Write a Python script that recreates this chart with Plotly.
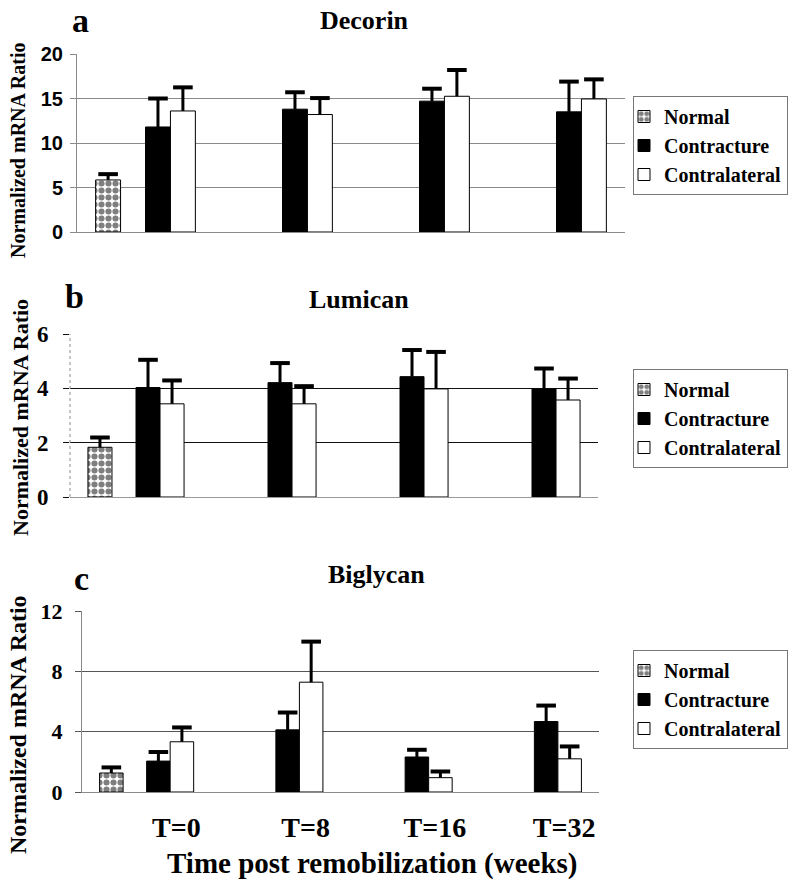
import plotly.graph_objects as go

# ---------------- data ----------------
timepoints = ["T=0", "T=8", "T=16", "T=32"]
series_names = ["Normal", "Contracture", "Contralateral"]

panel_letters = ["a", "b", "c"]
panel_titles = ["Decorin", "Lumican", "Biglycan"]
y_ranges = [[0, 20], [0, 6], [0, 12]]
y_dticks = [5, 2, 4]

decorin_normal = [5.85]
decorin_normal_err = [0.65]
decorin_contracture = [11.8, 13.8, 14.7, 13.5]
decorin_contracture_err = [3.2, 1.9, 1.4, 3.4]
decorin_contralateral = [13.6, 13.2, 15.25, 14.95]
decorin_contralateral_err = [2.65, 1.85, 2.95, 2.2]

lumican_normal = [1.83]
lumican_normal_err = [0.36]
lumican_contracture = [4.03, 4.21, 4.43, 3.98]
lumican_contracture_err = [1.02, 0.72, 0.98, 0.75]
lumican_contralateral = [3.43, 3.43, 3.98, 3.57]
lumican_contralateral_err = [0.86, 0.65, 1.36, 0.79]

biglycan_normal = [1.26]
biglycan_normal_err = [0.37]
biglycan_contracture = [2.05, 4.12, 2.32, 4.67]
biglycan_contracture_err = [0.6, 1.15, 0.48, 1.06]
biglycan_contralateral = [3.33, 7.28, 0.95, 2.2]
biglycan_contralateral_err = [0.95, 2.69, 0.41, 0.82]

panels = [
    (decorin_normal, decorin_normal_err, decorin_contracture, decorin_contracture_err,
     decorin_contralateral, decorin_contralateral_err),
    (lumican_normal, lumican_normal_err, lumican_contracture, lumican_contracture_err,
     lumican_contralateral, lumican_contralateral_err),
    (biglycan_normal, biglycan_normal_err, biglycan_contracture, biglycan_contracture_err,
     biglycan_contralateral, biglycan_contralateral_err),
]

# ---------------- style / layout ----------------
W, H = 800, 889
SERIF = "Liberation Serif"
SANS = "Liberation Sans"
# plot areas in pixels: (x0, x1, ytop, ybottom)
areas = [(77, 625, 54, 232), (70, 598, 334, 497), (82, 599, 611, 792)]
grid_colors = ["#8a8a8a", "#111111", "#555555"]
axis_colors = ["#8a8a8a", "#9a9a9a", "#8a8a8a"]
legend_pos = [(788, 96), (788, 369), (788, 650)]   # right edge, top
letter_pos = [(80, 20.5), (74, 296), (81, 578)]
title_pos = [(364, 21), (359, 299), (376, 574)]
ytitle_pos = [(18, 150, 20), (20, 418, 22), (18, 725, 24)]
ytick_fonts = [dict(family=SANS, size=20, color="black", weight="bold"),
               dict(family=SERIF, size=23, color="black", weight="bold"),
               dict(family=SERIF, size=22, color="black", weight="bold")]
ytick_standoff = [3, 10, 8]

bw = 0.182  # bar width in category units
offsets = [-2 * bw, 0.0, bw]

fig = go.Figure()
annotations = []
shapes = []

for p, data in enumerate(panels):
    sfx = "" if p == 0 else str(p + 1)
    xa, ya = "x" + sfx, "y" + sfx
    leg = "legend" + sfx
    normal, normal_err, contr, contr_err, contra, contra_err = data
    idx_all = list(range(len(timepoints)))
    idx_norm = idx_all[:len(normal)]

    series = [
        (series_names[0], idx_norm, normal, normal_err,
         dict(color="white", line=dict(color="black", width=1),
              pattern=dict(shape=".", fgcolor="black", bgcolor="white", size=7, solidity=0.6))),
        (series_names[1], idx_all, contr, contr_err,
         dict(color="black", line=dict(color="black", width=1))),
        (series_names[2], idx_all, contra, contra_err,
         dict(color="white", line=dict(color="black", width=1))),
    ]
    for s, (name, xs, vals, errs, marker) in enumerate(series):
        fig.add_trace(go.Bar(
            x=xs, y=vals, name=name, marker=marker,
            width=bw, offset=offsets[s],
            xaxis=xa, yaxis=ya, legend=leg,
        ))
        # one-sided error bars: cap at value+err, stem down to the bar top
        fig.add_trace(go.Scatter(
            x=[i + offsets[s] + bw / 2 for i in xs],
            y=[v + e for v, e in zip(vals, errs)],
            mode="markers",
            marker=dict(symbol="line-ew", size=14, line=dict(color="black", width=4)),
            error_y=dict(type="data", symmetric=False, array=[0] * len(errs),
                         arrayminus=errs, width=0, thickness=3, color="black"),
            xaxis=xa, yaxis=ya, showlegend=False, hoverinfo="skip",
        ))

    x0, x1, yt, yb = areas[p]
    xdom = [x0 / W, x1 / W]
    ydom = [1 - yb / H, 1 - yt / H]
    last = p == 2
    fig.update_layout({
        "xaxis" + sfx: dict(
            domain=xdom, range=[-0.5, len(timepoints) - 0.5], anchor=ya,
            showgrid=False, zeroline=False, showline=True, linecolor=axis_colors[p], linewidth=1,
            tickmode="array",
            tickvals=[i + 0.23 for i in idx_all] if last else [],
            ticktext=timepoints if last else [],
            ticks="", ticklabelstandoff=10,
            tickfont=dict(family=SERIF, size=28, color="black", weight="bold"),
            fixedrange=True, automargin=False,
        ),
        "yaxis" + sfx: dict(
            domain=ydom, range=y_ranges[p], anchor=xa,
            dtick=y_dticks[p], tick0=0,
            showgrid=True, gridcolor=grid_colors[p], gridwidth=1,
            zeroline=False, showline=(p != 1), linecolor=axis_colors[p], linewidth=1,
            ticks="outside", ticklen=6, tickcolor=grid_colors[p], tickwidth=1,
            tickfont=ytick_fonts[p], ticklabelstandoff=ytick_standoff[p],
            fixedrange=True, automargin=False,
        ),
        leg: dict(
            x=legend_pos[p][0] / W, y=1 - legend_pos[p][1] / H, xanchor="right", yanchor="top",
            xref="paper", yref="paper",
            bordercolor="#777777", borderwidth=1, bgcolor="white",
            font=dict(family=SERIF, size=20, color="black", weight="bold"),
            traceorder="normal", itemwidth=30, indentation=-10,
        ),
    })
    if p == 1:
        shapes.append(dict(type="line", xref=xa + " domain", yref=ya + " domain",
                           x0=0, x1=0, y0=0, y1=1,
                           line=dict(color="#8a8a8a", width=1, dash="dot")))

    annotations.append(dict(text=panel_letters[p], x=letter_pos[p][0] / W, y=1 - letter_pos[p][1] / H,
                            xref="paper", yref="paper", showarrow=False,
                            xanchor="center", yanchor="middle",
                            font=dict(family=SERIF, size=34, color="black", weight="bold")))
    annotations.append(dict(text=panel_titles[p], x=title_pos[p][0] / W, y=1 - title_pos[p][1] / H,
                            xref="paper", yref="paper", showarrow=False,
                            xanchor="center", yanchor="middle",
                            font=dict(family=SERIF, size=26, color="black", weight="bold")))
    annotations.append(dict(text="Normalized mRNA Ratio", x=ytitle_pos[p][0] / W,
                            y=1 - ytitle_pos[p][1] / H, xref="paper", yref="paper",
                            xanchor="center", yanchor="middle",
                            showarrow=False, textangle=-90,
                            font=dict(family=SERIF, size=ytitle_pos[p][2], color="black",
                                      weight="bold")))

annotations.append(dict(text="Time post remobilization (weeks)", x=372 / W, y=1 - 863 / H,
                        xref="paper", yref="paper", showarrow=False,
                        xanchor="center", yanchor="middle",
                        font=dict(family=SERIF, size=29, color="black", weight="bold")))

fig.update_layout(
    width=W, height=H,
    font=dict(family=SERIF, color="black"),
    margin=dict(l=0, r=0, t=0, b=0, pad=0, autoexpand=False),
    paper_bgcolor="white", plot_bgcolor="white",
    barmode="overlay",
    annotations=annotations, shapes=shapes,
)

fig.write_html("out.html", config={"displayModeBar": False},
               post_script="document.body.style.margin='0px';")
